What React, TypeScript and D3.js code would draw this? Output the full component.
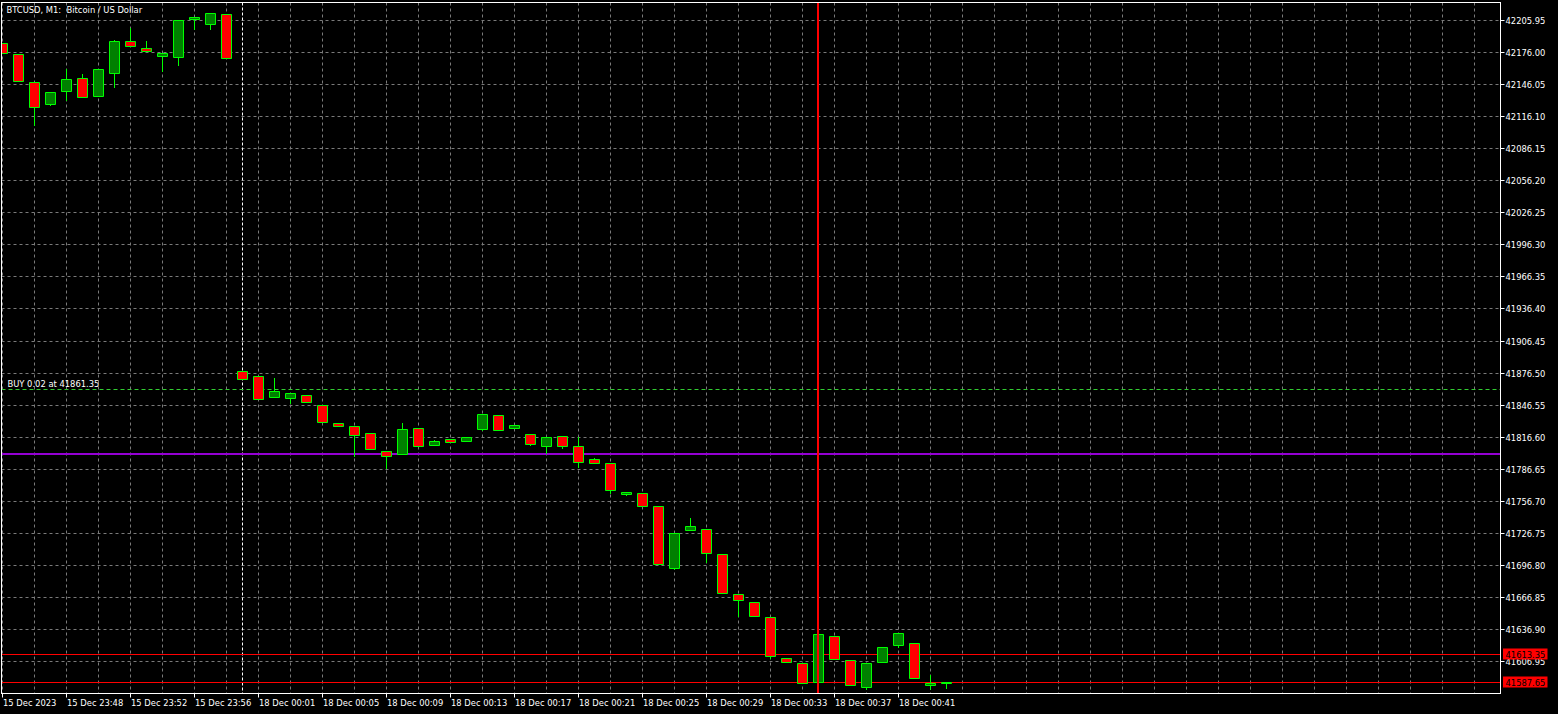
import React from 'react';
import * as d3 from 'd3';

const W = 1558;
const H = 714;

const TITLE = 'BTCUSD, M1:  Bitcoin / US Dollar';
const BUY_LABEL = 'BUY 0.02 at 41861.35';

const opens = [
  42184.1, 42173.8, 42147.6, 42127.7, 42139.9, 42152.0, 42134.8, 42156.7, 42186.0, 42180.1,
  42172.2, 42171.3, 42206.9, 42202.2, 42211.3, 41877.8, 41873.4, 41854.0, 41853.1, 41855.6,
  41846.2, 41829.4, 41826.6, 41820.0, 41803.2, 41800.7, 41824.7, 41809.1, 41814.4, 41812.8,
  41824.1, 41836.9, 41825.0, 41819.1, 41808.2, 41817.2, 41807.9, 41795.7, 41792.0, 41763.2,
  41763.9, 41751.4, 41694.3, 41729.5, 41729.9, 41707.4, 41669.1, 41662.5, 41647.6, 41610.1,
  41605.4, 41587.0, 41630.7, 41608.2, 41582.6, 41606.0, 41621.9, 41624.2, 41584.5, 41586.3,
];
const highs = [
  42184.1, 42173.8, 42147.6, 42138.9, 42160.1, 42155.1, 42160.4, 42186.9, 42198.2, 42186.0,
  42174.8, 42206.3, 42208.5, 42212.2, 42211.3, 41877.8, 41873.4, 41871.5, 41857.5, 41855.6,
  41846.2, 41829.4, 41826.6, 41820.0, 41803.2, 41829.4, 41824.7, 41813.5, 41814.4, 41816.0,
  41837.8, 41836.9, 41827.5, 41819.1, 41816.3, 41817.2, 41816.0, 41796.7, 41792.0, 41765.1,
  41763.9, 41751.4, 41726.2, 41740.5, 41729.9, 41707.4, 41669.1, 41662.5, 41647.6, 41610.1,
  41605.4, 41632.6, 41630.7, 41608.2, 41605.4, 41620.4, 41633.5, 41624.2, 41593.5, 41587.65,
];
const lows = [
  42175.4, 42148.8, 42107.7, 42126.4, 42131.1, 42133.9, 42134.8, 42143.2, 42181.6, 42176.9,
  42158.2, 42163.8, 42197.9, 42197.5, 42170.4, 41870.9, 41852.1, 41854.0, 41848.4, 41849.3,
  41830.6, 41826.9, 41798.8, 41805.4, 41787.3, 41800.7, 41808.2, 41809.1, 41811.9, 41812.8,
  41822.8, 41823.1, 41825.0, 41809.1, 41801.0, 41806.3, 41788.5, 41791.7, 41764.2, 41762.3,
  41752.0, 41697.7, 41692.5, 41729.5, 41699.3, 41670.6, 41648.8, 41649.0, 41609.5, 41606.0,
  41586.3, 41587.0, 41608.8, 41584.5, 41580.7, 41606.0, 41620.0, 41591.0, 41580.7, 41581.4,
];
const closes = [
  42175.4, 42148.8, 42124.5, 42138.9, 42151.1, 42133.9, 42160.4, 42186.0, 42181.6, 42176.9,
  42174.8, 42206.3, 42208.5, 42212.2, 42170.4, 41870.9, 41852.1, 41859.3, 41857.5, 41849.3,
  41830.6, 41826.9, 41818.5, 41805.4, 41798.8, 41823.8, 41808.2, 41812.6, 41811.9, 41816.0,
  41837.8, 41823.1, 41827.5, 41810.0, 41816.3, 41808.2, 41793.2, 41792.4, 41767.0, 41765.1,
  41752.0, 41697.7, 41726.2, 41732.7, 41708.0, 41670.6, 41664.0, 41649.0, 41611.6, 41606.0,
  41586.3, 41632.6, 41608.8, 41584.5, 41605.4, 41620.4, 41633.5, 41591.0, 41586.1, 41587.65,
];

const yTicks = [
  42205.95, 42176.0, 42146.05, 42116.1, 42086.15, 42056.2, 42026.25, 41996.3, 41966.35, 41936.4,
  41906.45, 41876.5, 41846.55, 41816.6, 41786.65, 41756.7, 41726.75, 41696.8, 41666.85, 41636.9,
  41606.95,
];
const xLabelIdx = [0, 4, 8, 12, 16, 20, 24, 28, 32, 36, 40, 44, 48, 52, 56];
const xLabels = [
  '15 Dec 2023', '15 Dec 23:48', '15 Dec 23:52', '15 Dec 23:56', '18 Dec 00:01', '18 Dec 00:05',
  '18 Dec 00:09', '18 Dec 00:13', '18 Dec 00:17', '18 Dec 00:21', '18 Dec 00:25', '18 Dec 00:29',
  '18 Dec 00:33', '18 Dec 00:37', '18 Dec 00:41',
];

const buyPrice = 41861.35;
const purplePrice = 41800.4;
const askPrice = 41613.35;
const bidPrice = 41587.65;
const separatorIdx = 15;
const cursorIdx = 51;

const FONT = "'DejaVu Sans Condensed', 'DejaVu Sans', sans-serif";
const GRID = '#7a7a7a';

export default function App() {
  const left = 1.5;
  const right = 1500.5;
  const top = 2.5;
  const bottom = 693.5;

  const x = d3.scaleLinear().domain([0, 1]).range([2.5, 18.5]);
  const y = d3.scaleLinear().domain([41606.95, 42205.95]).range([661.5, 20.5]);
  const py = (v: number) => Math.round(y(v) - 0.5) + 0.5;

  const maxIdx = Math.floor(x.invert(right));
  const gridIdx = d3.range(0, maxIdx + 1, 2);

  return (
    <div style={{ position: 'fixed', left: 0, top: 0, width: W, height: H, background: '#000' }}>
      <svg width={W} height={H} style={{ display: 'block' }}>
        <defs>
          <clipPath id="plotClip">
            <rect x={2} y={3} width={right - 2.5} height={bottom - 3.5} />
          </clipPath>
        </defs>
        <rect x={0} y={0} width={W} height={H} fill="#000" />
        {/* grid */}
        <g stroke={GRID} strokeWidth={1} strokeDasharray="3,3">
          {yTicks.map((t, i) => (
            <line key={'gy' + i} x1={left} x2={right} y1={py(t)} y2={py(t)} />
          ))}
          {gridIdx.map((i) => (
            <line key={'gx' + i} x1={x(i)} x2={x(i)} y1={top} y2={bottom} />
          ))}
        </g>
        {/* period separator */}
        <line x1={x(separatorIdx)} x2={x(separatorIdx)} y1={top} y2={bottom} stroke="#fff" strokeDasharray="3,2" />
        {/* horizontal levels */}
        <line x1={left} x2={right} y1={py(buyPrice)} y2={py(buyPrice)} stroke="#32CD32" strokeDasharray="4,3" />
        <line x1={left} x2={right} y1={Math.round(y(purplePrice))} y2={Math.round(y(purplePrice))} stroke="#9400D3" strokeWidth={2} />
        <line x1={left} x2={right} y1={py(askPrice)} y2={py(askPrice)} stroke="#FF0000" />
        <line x1={left} x2={right} y1={py(bidPrice)} y2={py(bidPrice)} stroke="#FF0000" />
        {/* candles */}
        <g clipPath="url(#plotClip)">
          {opens.map((o, i) => {
            const c = closes[i];
            const cx = x(i);
            const t = py(Math.max(o, c));
            const b = py(Math.min(o, c));
            const bull = c >= o;
            return (
              <g key={'c' + i}>
                <line x1={cx} x2={cx} y1={py(highs[i]) - 0.5} y2={py(lows[i]) + 0.5} stroke="#00FF00" />
                <path
                  d={`M${cx - 5},${t}H${cx + 5}V${b}H${cx - 5}Z`}
                  fill={bull ? '#008000' : '#FF0000'}
                  stroke="#00FF00"
                  strokeWidth={1}
                />
              </g>
            );
          })}
        </g>
        {/* cursor vertical line */}
        <line x1={Math.round(x(cursorIdx) - 0.5)} x2={Math.round(x(cursorIdx) - 0.5)} y1={top} y2={bottom} stroke="#FF0000" strokeWidth={2} />
        {/* frame */}
        <rect x={left} y={top} width={right - left} height={bottom - top} fill="none" stroke="#fff" />
        {/* y axis ticks and labels */}
        <g fontFamily={FONT} fontSize={9.3} fill="#fff">
          {yTicks.map((t, i) => (
            <g key={'yt' + i}>
              <line x1={right} x2={right + 4} y1={py(t)} y2={py(t)} stroke="#fff" />
              <text x={1505.5} y={py(t) + 3.3}>{t.toFixed(2)}</text>
            </g>
          ))}
        </g>
        {/* price boxes */}
        <g fontFamily={FONT} fontSize={9.3}>
          {[askPrice, bidPrice].map((p, i) => (
            <g key={'pb' + i}>
              <rect x={1503} y={py(p) - 6} width={44.5} height={11} fill="#FF0000" />
              <text x={1505.5} y={py(p) + 3.3} fill="#000">{p.toFixed(2)}</text>
            </g>
          ))}
        </g>
        {/* x axis ticks and labels */}
        <g fontFamily={FONT} fontSize={9.3} fill="#fff">
          {xLabelIdx.map((idx, i) => (
            <g key={'xt' + i}>
              <line x1={x(idx)} x2={x(idx)} y1={bottom} y2={bottom + 4} stroke="#fff" />
              <text x={x(idx) + 0.5} y={706}>{xLabels[i]}</text>
            </g>
          ))}
        </g>
        {/* title + trade label */}
        <g fontFamily={FONT} fontSize={9.3} fill="#fff">
          <text x={6.5} y={13} style={{ whiteSpace: 'pre' }}>{TITLE}</text>
          <text x={7.5} y={386.5}>{BUY_LABEL}</text>
        </g>
      </svg>
    </div>
  );
}
